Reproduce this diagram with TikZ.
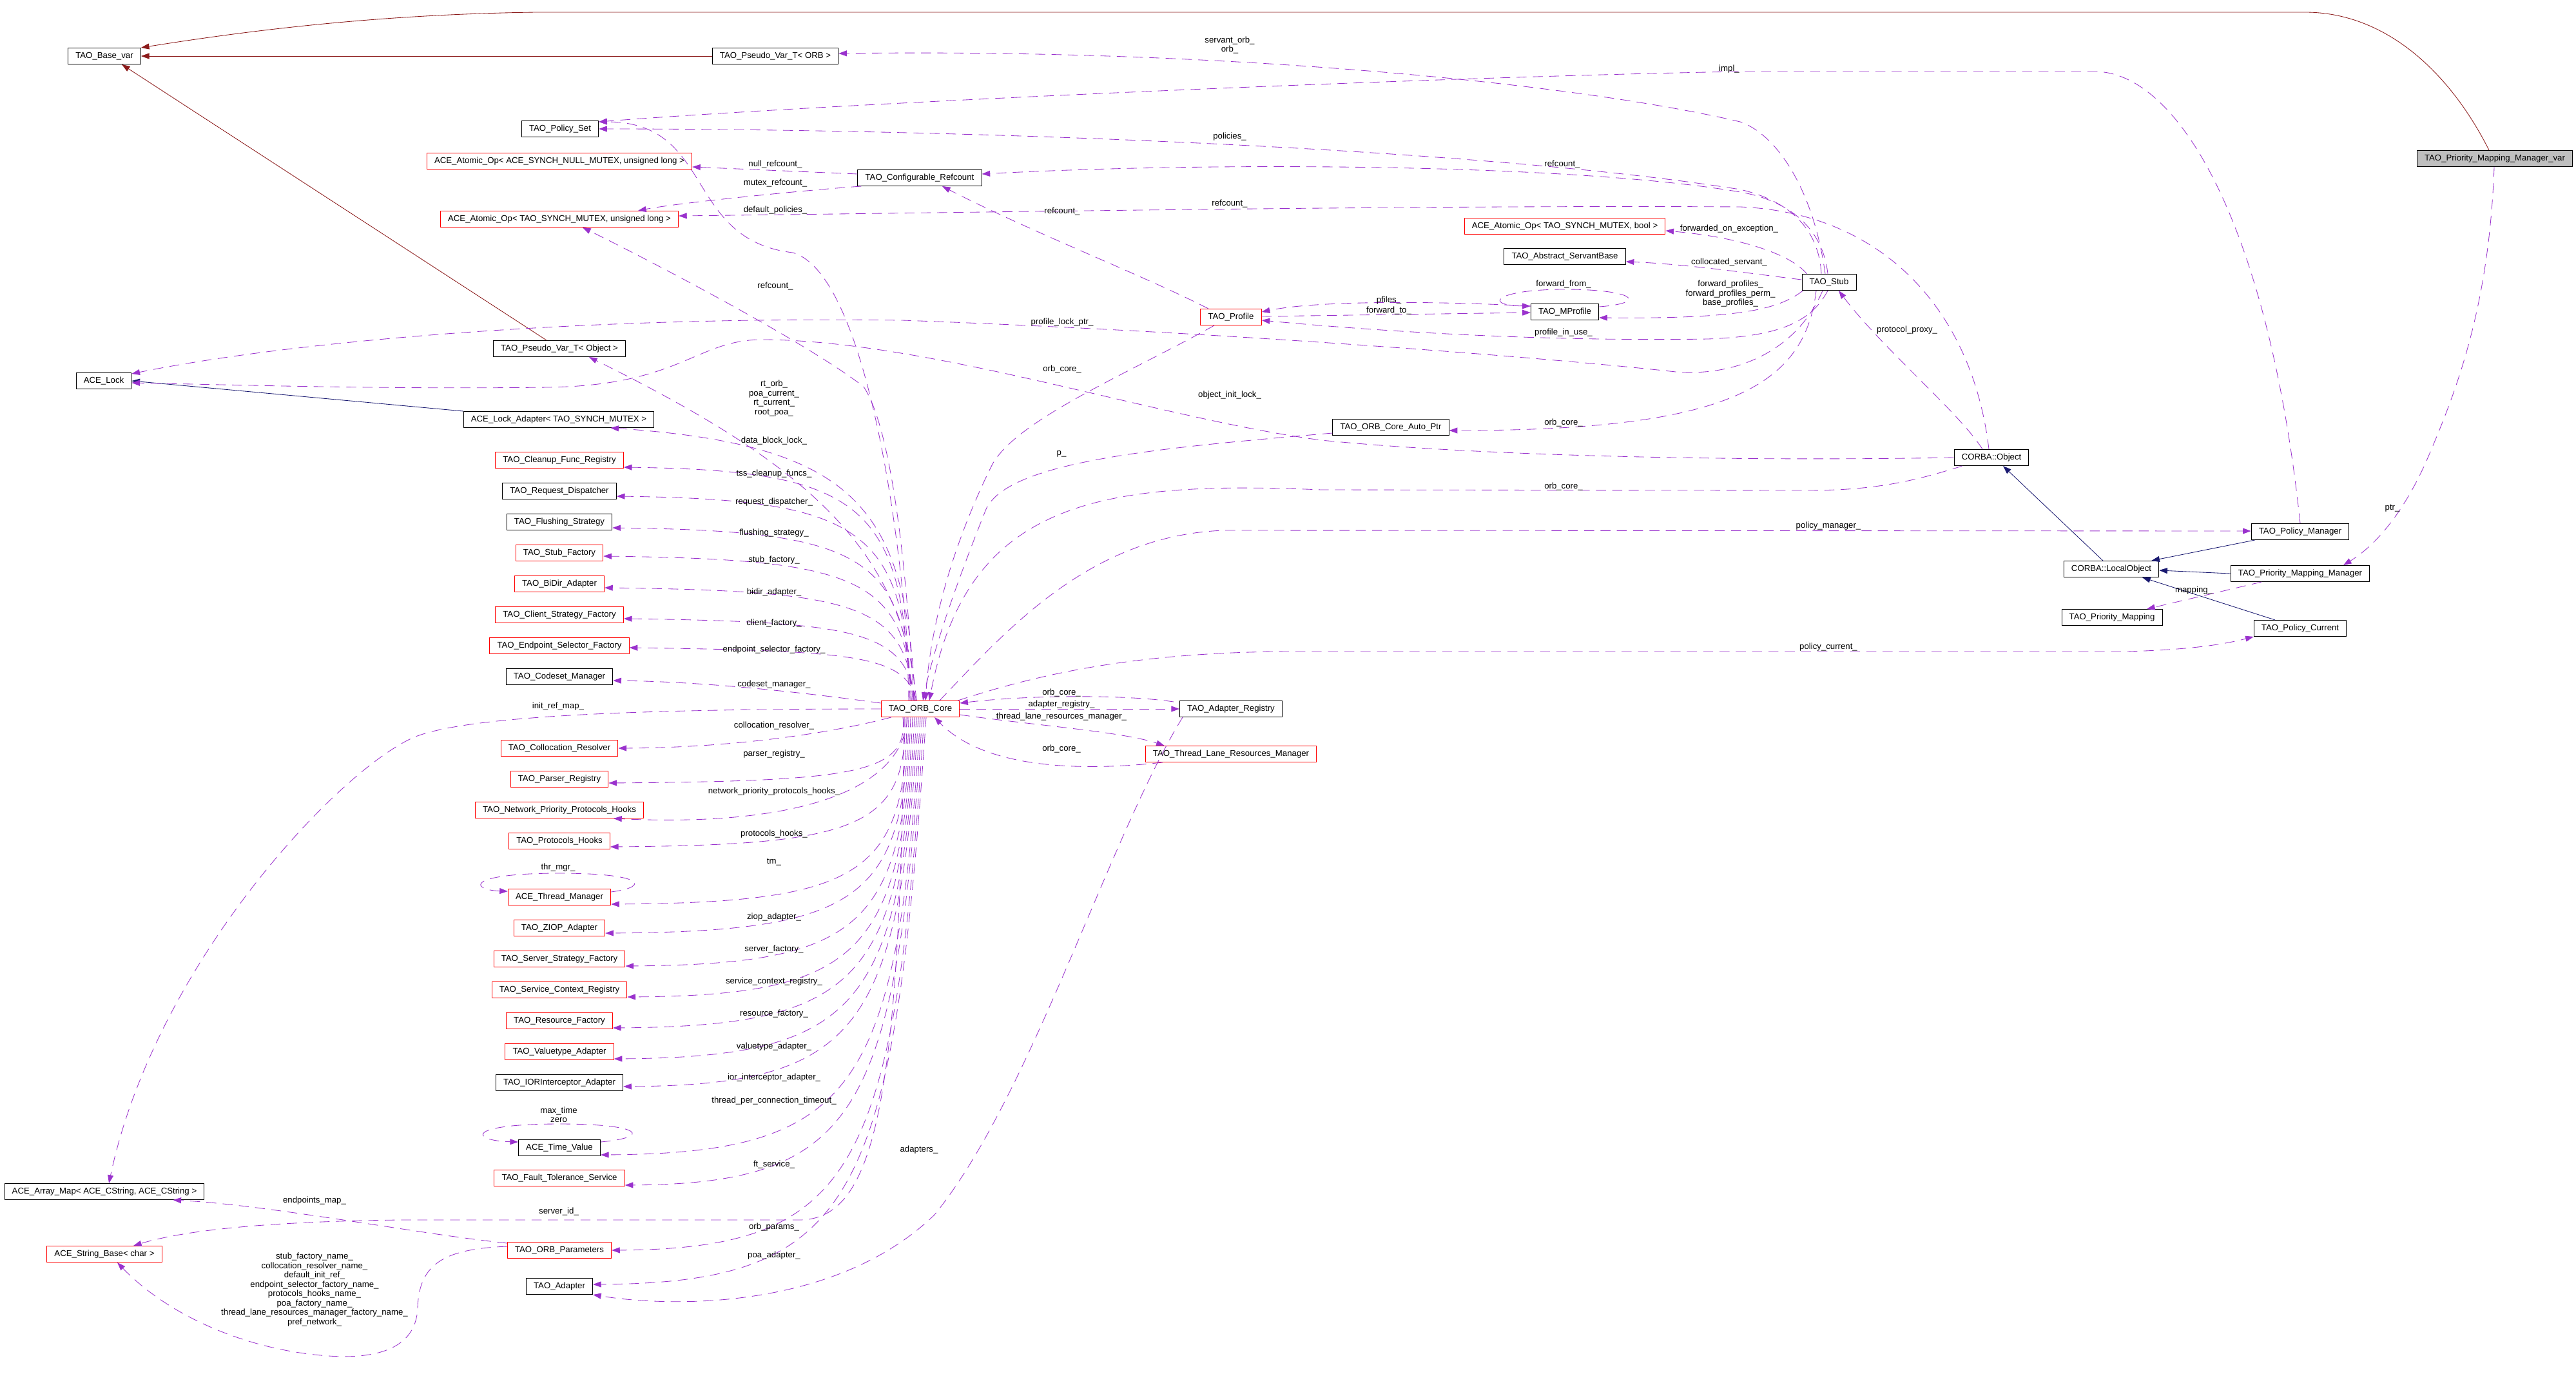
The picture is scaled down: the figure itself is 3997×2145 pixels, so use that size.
\documentclass[tikz,border=0pt]{standalone}
\usepackage{fontspec}
\setmainfont{Liberation Sans}
\usepackage{tikz}
\usetikzlibrary{calc,arrows.meta}
\definecolor{depc}{HTML}{9A32CD}
\definecolor{pubc}{HTML}{191970}
\definecolor{privc}{HTML}{8B1A1A}
\definecolor{rootc}{HTML}{BFBFBF}
\newcommand{\dxfont}{\fontsize{9.4}{10.3}\selectfont}
\tikzset{
  cls/.style={draw=black, line width=0.7pt, inner xsep=8.3pt, inner ysep=0pt,
              minimum height=17.8pt, font=\dxfont},
  trunc/.style={cls, draw=red},
  root/.style={cls, fill=rootc},
  lbl/.style={font=\dxfont, inner sep=0pt, align=center},
  dep/.style={depc, line width=0.6pt, dash pattern=on 11pt off 7pt,
              -{Triangle[length=9pt,width=6.4pt]}},
  pubinh/.style={pubc, line width=0.6pt, -{Triangle[length=9pt,width=6.4pt]}},
  privinh/.style={privc, line width=0.6pt, -{Triangle[length=9pt,width=6.4pt]}}
}

\begin{document}
\begin{tikzpicture}[x=0.025cm, y=-0.025cm]
  \useasboundingbox (0,0) rectangle (3997,2145);
  \node[cls] (bvar) at (162,87) {TAO\_Base\_var};
  \node[cls] (pvorb) at (1203,87) {TAO\_Pseudo\_Var\_T< ORB >};
  \node[cls] (pset) at (869,200) {TAO\_Policy\_Set};
  \node[trunc] (aonull) at (868,250) {ACE\_Atomic\_Op< ACE\_SYNCH\_NULL\_MUTEX, unsigned long >};
  \node[trunc] (aoul) at (868,340) {ACE\_Atomic\_Op< TAO\_SYNCH\_MUTEX, unsigned long >};
  \node[cls] (pvobj) at (868,541) {TAO\_Pseudo\_Var\_T< Object >};
  \node[cls] (lock) at (161,591) {ACE\_Lock};
  \node[cls] (lockad) at (867,651) {ACE\_Lock\_Adapter< TAO\_SYNCH\_MUTEX >};
  \foreach \n/\y/\txt/\col in {cfr/714/TAO\_Cleanup\_Func\_Registry/red,
      rd/762/TAO\_Request\_Dispatcher/black, fs/810/TAO\_Flushing\_Strategy/black,
      sf/858/TAO\_Stub\_Factory/red, bidir/906/TAO\_BiDir\_Adapter/red,
      csf/954/TAO\_Client\_Strategy\_Factory/red, esf/1002/TAO\_Endpoint\_Selector\_Factory/red,
      csm/1050/TAO\_Codeset\_Manager/black, colr/1161/TAO\_Collocation\_Resolver/red,
      preg/1209/TAO\_Parser\_Registry/red, npph/1257/TAO\_Network\_Priority\_Protocols\_Hooks/red,
      ph/1305/TAO\_Protocols\_Hooks/red, thm/1392/ACE\_Thread\_Manager/red,
      ziop/1440/TAO\_ZIOP\_Adapter/red, ssf/1488/TAO\_Server\_Strategy\_Factory/red,
      scr/1536/TAO\_Service\_Context\_Registry/red, rf/1584/TAO\_Resource\_Factory/red,
      vta/1632/TAO\_Valuetype\_Adapter/red, iora/1680/TAO\_IORInterceptor\_Adapter/black,
      tv/1781/ACE\_Time\_Value/black, fts/1828/TAO\_Fault\_Tolerance\_Service/red,
      orbp/1940/TAO\_ORB\_Parameters/red, adp/1996/TAO\_Adapter/black}
    \node[cls, draw=\col] (\n) at (868,\y) {\txt};
  \node[cls] (amap) at (162,1849) {ACE\_Array\_Map< ACE\_CString, ACE\_CString >};
  \node[trunc] (sbase) at (162,1946) {ACE\_String\_Base< char >};
  \node[cls] (cref) at (1427,276) {TAO\_Configurable\_Refcount};
  \node[trunc] (core) at (1428,1100) {TAO\_ORB\_Core};
  \node[cls] (areg) at (1910,1100) {TAO\_Adapter\_Registry};
  \node[trunc] (tlrm) at (1910,1170) {TAO\_Thread\_Lane\_Resources\_Manager};
  \node[trunc] (prof) at (1910,492) {TAO\_Profile};
  \node[cls] (mprof) at (2428,484) {TAO\_MProfile};
  \node[trunc] (aobool) at (2428,351) {ACE\_Atomic\_Op< TAO\_SYNCH\_MUTEX, bool >};
  \node[cls] (asb) at (2428,398) {TAO\_Abstract\_ServantBase};
  \node[cls] (stub) at (2838,438) {TAO\_Stub};
  \node[cls] (autoptr) at (2158,663) {TAO\_ORB\_Core\_Auto\_Ptr};
  \node[cls] (cobj) at (3090,710) {CORBA::Object};
  \node[cls] (pman) at (3569,825) {TAO\_Policy\_Manager};
  \node[cls] (lobj) at (3276,883) {CORBA::LocalObject};
  \node[cls] (pmm) at (3569,890) {TAO\_Priority\_Mapping\_Manager};
  \node[cls] (pmap) at (3277,958) {TAO\_Priority\_Mapping};
  \node[cls] (pcur) at (3569,975) {TAO\_Policy\_Current};
  \node[root] (pmmvar) at (3871,246) {TAO\_Priority\_Mapping\_Manager\_var};

  \draw[privinh] (pvorb) -- (bvar);
  \draw[privinh] ($(pvobj.north)+(-20,0)$) -- ($(bvar.south)+(27,0)$);
  \draw[privinh] ($(pmmvar.north)+(-9,0)$) .. controls (3800,110) and (3700,19) .. (3577,19)
    -- (832,19) .. controls (600,22) and (400,45) .. (bvar.north east);
  \draw[pubinh] (lockad.north west) -- (lock.east);
  \draw[pubinh] ($(lobj.north)+(-13,0)$) -- ($(cobj.south)+(18,0)$);
  \draw[pubinh] ($(pman.south west)+(6,0)$) -- ($(lobj.north east)+(-12,0)$);
  \draw[pubinh] (pmm.west) -- ($(lobj.east)+(0,2)$);
  \draw[pubinh] ($(pcur.north)+(-39,0)$) -- ($(lobj.south)+(48,0)$);

  \foreach \n/\ny/\lab/\ly [count=\i] in {cfr/725/tss\_cleanup\_funcs\_/735,
      rd/770/request\_dispatcher\_/779, fs/819/flushing\_strategy\_/827,
      sf/863/stub\_factory\_/869, bidir/912/bidir\_adapter\_/919,
      csf/960/client\_factory\_/967, esf/1005/endpoint\_selector\_factory\_/1008}{
    \draw[dep] ($(core.north)+(-20+2*\i,0)$) .. controls (1405,{\ny+0.15*(1088-\ny)})
      and (1330,\ny+5) .. (\n.east |- 0,\ny);
    \node[lbl] at (1201,\ly) {\lab};}
  \foreach \n/\ny/\lab/\ly [count=\i] in {preg/1215/parser\_registry\_/1170,
      ph/1314/protocols\_hooks\_/1294, thm/1403/tm\_/1338, ziop/1448/ziop\_adapter\_/1423,
      ssf/1499/server\_factory\_/1473, scr/1547/service\_context\_registry\_/1523,
      rf/1595/resource\_factory\_/1573, vta/1643/valuetype\_adapter\_/1624,
      iora/1686/ior\_interceptor\_adapter\_/1672, tv/1792/thread\_per\_connection\_timeout\_/1708,
      fts/1839/ft\_service\_/1807, orbp/1940/orb\_params\_/1904, adp/1993/poa\_adapter\_/1948}{
    \draw[dep] ($(core.south)+(-30+3*\i,0)$) .. controls ({1412-2*\i},{\ny-0.15*(\ny-1113)})
      and (1330,\ny-3) .. (\n.east |- 0,\ny);
    \node[lbl] at (1201,\ly) {\lab};}

  \draw[dep] ($(core.north)+(-8,0)$) .. controls (1405,790) and (1330,690) .. ($(lockad.south east)+(-68,0)$);
  \node[lbl] at (1201,684) {data\_block\_lock\_};
  \draw[dep] ($(core.north)+(-6,0)$) .. controls (1400,850) and (1250,720) .. ($(pvobj.south)+(46,0)$);
  \node[lbl] at (1201,618) {rt\_orb\_\\poa\_current\_\\rt\_current\_\\root\_poa\_};
  \draw[dep] ($(core.north)+(-10,0)$) .. controls (1405,850) and (1380,660) .. (1340,600)
    .. controls (1250,530) and (1000,400) .. ($(aoul.south)+(36,0)$);
  \node[lbl] at (1203,444) {refcount\_};
  \draw[dep] ($(core.north)+(-14,0)$) .. controls (1395,750) and (1330,420) .. (1230,392)
    .. controls (1060,372) and (1110,189) .. ($(pset.east)+(0,-11)$);
  \node[lbl] at (1203,326) {default\_policies\_};
  \draw[dep] ($(cref.west)+(0,-6)$) -- ($(aonull.east)+(0,9)$);
  \node[lbl] at (1203,255) {null\_refcount\_};
  \draw[dep] ($(cref.south west)+(6,0)$) .. controls (1250,295) and (1050,315) .. ($(aoul.north)+(122,0)$);
  \node[lbl] at (1203,284) {mutex\_refcount\_};
  \draw[dep] ($(core.west)+(0,-9)$) .. controls (1250,1075) and (1100,1058) .. ($(csm.east)+(0,6)$);
  \node[lbl] at (1201,1062) {codeset\_manager\_};
  \draw[dep] ($(core.south west)+(16,0)$) .. controls (1300,1135) and (1150,1160) .. (colr.east);
  \node[lbl] at (1201,1126) {collocation\_resolver\_};
  \draw[dep] ($(core.south)+(-20,0)$) .. controls (1400,1240) and (1200,1282) .. ($(npph.south east)+(-47,0)$);
  \node[lbl] at (1201,1228) {network\_priority\_protocols\_hooks\_};
  \draw[dep] (core.west) .. controls (1000,1100) and (720,1110) .. (640,1145)
    .. controls (520,1200) and (240,1500) .. ($(amap.north)+(7,0)$);
  \node[lbl] at (866,1096) {init\_ref\_map\_};
  \draw[dep] ($(thm.east)+(0,-8)$) .. controls (1010,1376) and (1000,1355) .. (868,1355)
    .. controls (720,1355) and (730,1381) .. ($(thm.west)+(0,-9)$);
  \node[lbl] at (866,1346) {thr\_mgr\_};
  \draw[dep] ($(tv.east)+(0,-9)$) .. controls (1010,1765) and (1000,1744) .. (868,1744)
    .. controls (720,1744) and (730,1770) .. ($(tv.west)+(0,-9)$);
  \node[lbl] at (867,1730) {max\_time\\zero};
  \draw[dep] ($(core.south)+(-25,0)$) .. controls (1395,1700) and (1360,1893) .. (1240,1893)
    -- (620,1893) .. controls (450,1895) and (300,1905) .. ($(sbase.north)+(45,0)$);
  \node[lbl] at (867,1880) {server\_id\_};
  \draw[dep] ($(orbp.west)+(0,-11)$) .. controls (650,1915) and (420,1870) .. ($(amap.south east)+(-49,0)$);
  \node[lbl] at (488,1863) {endpoints\_map\_};
  \draw[dep] ($(orbp.west)+(0,-6)$) .. controls (690,1938) and (650,1960) .. (648,2030)
    .. controls (645,2100) and (570,2108) .. (510,2104)
    .. controls (380,2095) and (260,2040) .. ($(sbase.south)+(20,0)$);
  \node[lbl] at (488,2001) {stub\_factory\_name\_\\collocation\_resolver\_name\_\\default\_init\_ref\_\\endpoint\_selector\_factory\_name\_\\protocols\_hooks\_name\_\\poa\_factory\_name\_\\thread\_lane\_resources\_manager\_factory\_name\_\\pref\_network\_};
  \draw[dep] ($(areg.south west)+(5,0)$) .. controls (1720,1300) and (1600,1700) .. (1450,1885)
    .. controls (1300,2030) and (1050,2030) .. (adp.south east);
  \node[lbl] at (1426,1784) {adapters\_};

  \draw[dep] ($(areg.north west)+(-9,2)$) .. controls (1750,1078) and (1600,1078) .. ($(core.east)+(0,-9)$);
  \node[lbl] at (1647,1075) {orb\_core\_};
  \draw[dep] (core) -- (areg);
  \node[lbl] at (1647,1093) {adapter\_registry\_};
  \draw[dep] ($(core.east)+(0,9)$) .. controls (1600,1125) and (1740,1135) .. ($(tlrm.north west)+(30,0)$);
  \node[lbl] at (1647,1112) {thread\_lane\_resources\_manager\_};
  \draw[dep] ($(tlrm.south west)+(27,0)$) .. controls (1650,1200) and (1520,1185) .. ($(core.south)+(22,0)$);
  \node[lbl] at (1647,1162) {orb\_core\_};
  \draw[dep] ($(prof.south)+(-26,0)$) .. controls (1750,580) and (1580,650) .. (1540,720)
    .. controls (1490,820) and (1445,950) .. ($(core.north)+(8,0)$);
  \node[lbl] at (1648,573) {orb\_core\_};
  \draw[dep] ($(cobj.south west)+(13,0)$) .. controls (2960,750) and (2900,761) .. (2800,761)
    -- (2050,760) .. controls (1700,745) and (1500,780) .. ($(core.north)+(14,0)$);
  \node[lbl] at (2426,755) {orb\_core\_};
  \draw[dep] ($(autoptr.west)+(0,9)$) .. controls (1800,695) and (1565,715) .. (1530,790)
    .. controls (1490,890) and (1450,1000) .. ($(core.north)+(4,0)$);
  \node[lbl] at (1647,704) {p\_};
  \draw[dep] ($(core.north)+(30,0)$) .. controls (1560,980) and (1690,830) .. (1900,823)
    -- ($(pman.west)+(0,-1)$);
  \node[lbl] at (2837,816) {policy\_manager\_};
  \draw[dep] ($(core.north east)+(-3,0)$) .. controls (1600,1050) and (1750,1012) .. (2000,1011)
    -- (3300,1011) .. controls (3400,1008) and (3450,1000) .. (pcur.south west);
  \node[lbl] at (2837,1004) {policy\_current\_};

  \draw[dep] ($(stub.north)+(-6,0)$) .. controls (2815,300) and (2760,210) .. (2700,189)
    .. controls (2450,130) and (1900,75) .. ($(pvorb.east)+(0,-4)$);
  \node[lbl] at (1908,70) {servant\_orb\_\\orb\_};
  \draw[dep] ($(stub.north)+(-12,0)$) .. controls (2822,350) and (2770,310) .. (2700,294)
    .. controls (2300,230) and (1500,200) .. (pset.east);
  \node[lbl] at (1908,212) {policies\_};
  \draw[dep] ($(stub.north)+(-2,0)$) .. controls (2828,350) and (2770,310) .. (2700,298)
    .. controls (2450,255) and (1900,250) .. ($(cref.east)+(0,-6)$);
  \node[lbl] at (2424,255) {refcount\_};
  \draw[dep] ($(cobj.north)+(-4,0)$) .. controls (3060,480) and (2920,330) .. (2700,321)
    .. controls (2200,318) and (1500,330) .. ($(aoul.east)+(0,-5)$);
  \node[lbl] at (1908,316) {refcount\_};
  \draw[dep] ($(prof.north)+(-35,0)$) .. controls (1780,430) and (1600,360) .. ($(cref.south)+(35,0)$);
  \node[lbl] at (1648,328) {refcount\_};
  \draw[dep] ($(stub.north west)+(8,0)$) .. controls (2780,395) and (2700,368) .. ($(aobool.east)+(0,7)$);
  \node[lbl] at (2683,355) {forwarded\_on\_exception\_};
  \draw[dep] ($(stub.west)+(0,-4)$) .. controls (2720,425) and (2620,410) .. ($(asb.east)+(0,8)$);
  \node[lbl] at (2683,407) {collocated\_servant\_};
  \draw[dep] ($(mprof.east)+(0,-8)$) .. controls (2560,470) and (2535,449) .. (2428,449)
    .. controls (2320,449) and (2300,474) .. ($(mprof.west)+(0,-9)$);
  \node[lbl] at (2426,441) {forward\_from\_};
  \draw[dep] ($(mprof.west)+(0,-9)$) .. controls (2250,468) and (2050,465) .. ($(prof.east)+(0,-8)$);
  \node[lbl] at (2155,466) {pfiles\_};
  \draw[dep] ($(prof.east)+(0,-1)$) -- ($(mprof.west)+(0,1)$);
  \node[lbl] at (2155,482) {forward\_to\_};
  \draw[dep] ($(stub.south west)+(2,0)$) .. controls (2760,480) and (2700,495) .. ($(mprof.east)+(0,9)$);
  \node[lbl] at (2685,456) {forward\_profiles\_\\forward\_profiles\_perm\_\\base\_profiles\_};
  \draw[dep] ($(stub.south)+(-2,0)$) .. controls (2810,500) and (2760,522) .. (2650,526)
    .. controls (2400,530) and (2150,515) .. ($(prof.east)+(0,5)$);
  \node[lbl] at (2426,516) {profile\_in\_use\_};
  \draw[dep] ($(stub.south)+(-10,0)$) .. controls (2790,540) and (2700,585) .. (2600,577)
    .. controls (2400,555) and (1900,515) .. (1400,497)
    .. controls (900,490) and (450,530) .. ($(lock.east)+(0,-11)$);
  \node[lbl] at (1648,500) {profile\_lock\_ptr\_};
  \draw[dep] ($(stub.south)+(-20,0)$) .. controls (2800,600) and (2680,668) .. ($(autoptr.east)+(0,5)$);
  \node[lbl] at (2426,656) {orb\_core\_};
  \draw[dep] (cobj.west) .. controls (2700,716) and (2300,708) .. (2050,683)
    .. controls (1800,650) and (1450,530) .. (1188,527)
    .. controls (1080,525) and (1060,598) .. (850,601)
    .. controls (600,604) and (400,598) .. ($(lock.east)+(0,3)$);
  \node[lbl] at (1908,613) {object\_init\_lock\_};
  \draw[dep] ($(cobj.north)+(-14,0)$) .. controls (3040,640) and (2920,540) .. ($(stub.south)+(15,0)$);
  \node[lbl] at (2959,512) {protocol\_proxy\_};
  \draw[dep] (pman.north) .. controls (3520,350) and (3380,111) .. (3250,111) -- (2700,111)
    .. controls (2200,120) and (1300,160) .. ($(pset.east)+(0,-11)$);
  \node[lbl] at (2683,107) {impl\_};
  \draw[dep] ($(pmmvar.south)+(-1,0)$) .. controls (3862,480) and (3810,610) .. (3765,715)
    .. controls (3725,805) and (3680,850) .. ($(pmm.north)+(67,0)$);
  \node[lbl] at (3712,789) {ptr\_};
  \draw[dep] ($(pmm.south)+(-60,0)$) -- ($(pmap.north)+(54,0)$);
  \node[lbl] at (3404,916) {mapping\_};
\end{tikzpicture}
\end{document}
